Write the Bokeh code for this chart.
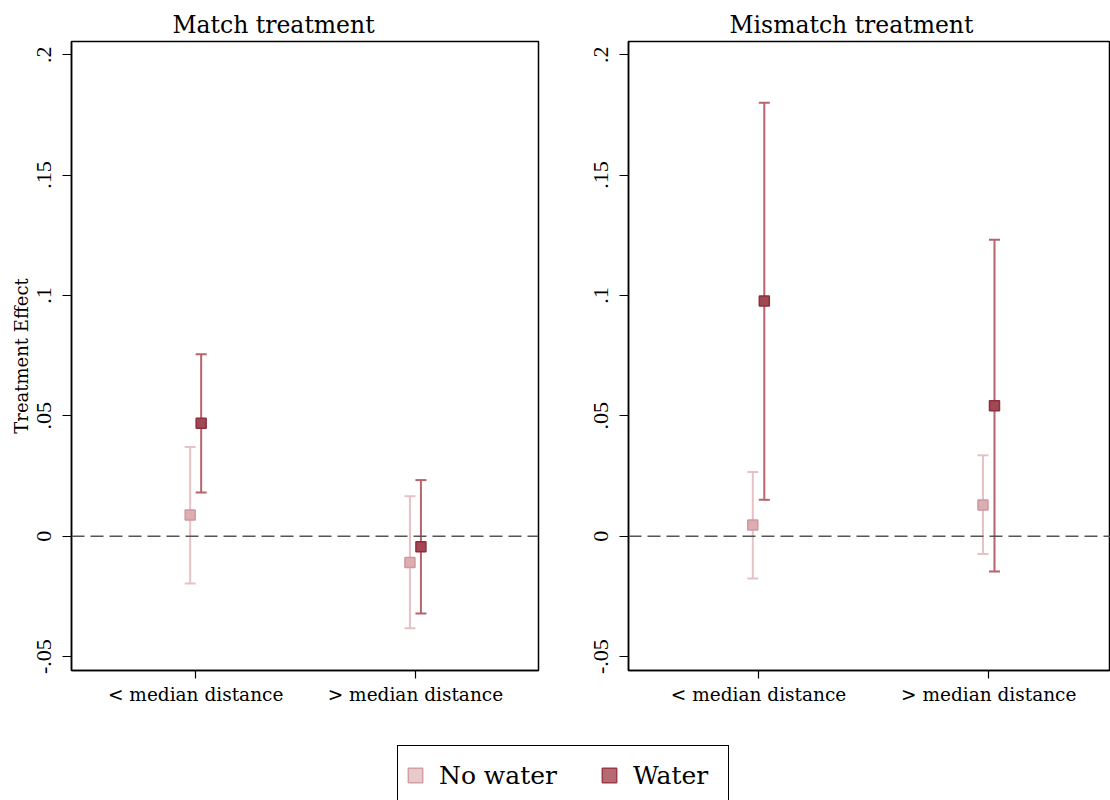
from bokeh.plotting import figure
from bokeh.models import (Whisker, TeeHead, ColumnDataSource, FixedTicker, Span,
                          Legend, LegendItem, Title, Range1d)
from bokeh.layouts import column, row
from bokeh.embed import file_html
from bokeh.resources import INLINE

# ---------------- data ----------------
categories = ["< median distance", "> median distance"]
cat_pos = [1, 2]
panel_titles = ["Match treatment", "Mismatch treatment"]
group_names = ["No water", "Water"]

# Match treatment
match_nowater_est = [0.0088, -0.0109]
match_nowater_lo = [-0.0197, -0.0382]
match_nowater_hi = [0.0370, 0.0166]
match_water_est = [0.0469, -0.0044]
match_water_lo = [0.0181, -0.0321]
match_water_hi = [0.0756, 0.0233]

# Mismatch treatment
mis_nowater_est = [0.0046, 0.0130]
mis_nowater_lo = [-0.0176, -0.0074]
mis_nowater_hi = [0.0267, 0.0336]
mis_water_est = [0.0977, 0.0542]
mis_water_lo = [0.0151, -0.0147]
mis_water_hi = [0.1801, 0.1231]

y_ticks = [-0.05, 0, 0.05, 0.1, 0.15, 0.2]
y_tick_labels = ["-.05", "0", ".05", ".1", ".15", ".2"]

# ---------------- style ----------------
DODGE = 0.025
SERIF = "DejaVu Serif"
NARROW = "Liberation Sans Narrow"
styles = {
    "No water": dict(fill="#dcadb2", line="#cf979e", whisk="#e6c2c6",
                     leg_fill="#e8c9cc", leg_line="#d29fa5"),
    "Water": dict(fill="#a24854", line="#8c2f3b", whisk="#b5646d",
                  leg_fill="#b56b74", leg_line="#9a3c48"),
}


def make_panel(title, series, width, border_left, border_right, x_end, ylabel):
    p = figure(width=width, height=722,
               x_range=Range1d(0.435, x_end), y_range=Range1d(-0.0558, 0.2055),
               output_backend="svg", toolbar_location=None,
               min_border_left=border_left, min_border_right=border_right,
               min_border_top=41, min_border_bottom=52)
    p.add_layout(Title(text=title, align="left", offset=101, text_font=SERIF,
                       text_font_size="23.5px", text_font_style="normal",
                       text_color="black", standoff=5), "above")
    p.grid.visible = False
    p.outline_line_color = "black"
    p.outline_line_width = 1.5
    p.outline_line_alpha = 1.0

    p.add_layout(Span(location=0, dimension="width", line_color="#555555",
                      line_dash="13 6", line_width=1.5))

    for name, sign, est, lo, hi in series:
        st = styles[name]
        src = ColumnDataSource(dict(
            x=[c + sign * DODGE for c in cat_pos], est=est, lo=lo, hi=hi))
        p.add_layout(Whisker(source=src, base="x", upper="hi", lower="lo",
                             line_color=st["whisk"], line_width=2,
                             upper_head=TeeHead(size=11, line_color=st["whisk"], line_width=2),
                             lower_head=TeeHead(size=11, line_color=st["whisk"], line_width=2)))
        p.scatter(x="x", y="est", source=src, marker="square", size=10,
                  fill_color=st["fill"], line_color=st["line"], line_width=1.5)

    xa = p.xaxis[0]
    xa.ticker = FixedTicker(ticks=cat_pos)
    xa.major_label_overrides = {c: lab for c, lab in zip(cat_pos, categories)}
    xa.minor_tick_line_color = None
    xa.major_tick_in = 0
    xa.major_tick_out = 8
    xa.major_tick_line_width = 1.2
    xa.major_label_standoff = 5
    xa.major_label_text_font = SERIF
    xa.major_label_text_font_size = "18.5px"
    xa.major_label_text_color = "black"
    xa.axis_line_width = 1.5
    xa.axis_line_color = "black"

    ya = p.yaxis[0]
    ya.ticker = FixedTicker(ticks=y_ticks)
    ya.major_label_overrides = {t: lab for t, lab in zip(y_ticks, y_tick_labels)}
    ya.minor_tick_line_color = None
    ya.major_tick_in = 0
    ya.major_tick_out = 9
    ya.major_tick_line_width = 1.2
    ya.major_label_orientation = "vertical"
    ya.major_label_standoff = 11
    ya.major_label_text_font = NARROW
    ya.major_label_text_font_size = "22px"
    ya.major_label_text_color = "black"
    ya.axis_line_width = 1.5
    ya.axis_line_color = "black"
    if ylabel:
        ya.axis_label = ylabel
        ya.axis_label_text_font = SERIF
        ya.axis_label_text_font_size = "18px"
        ya.axis_label_text_font_style = "normal"
        ya.axis_label_text_color = "black"
        ya.axis_label_standoff = 3
    return p


p1 = make_panel(panel_titles[0], [
    ("No water", -1, match_nowater_est, match_nowater_lo, match_nowater_hi),
    ("Water", 1, match_water_est, match_water_lo, match_water_hi),
], width=560, border_left=71, border_right=22, x_end=2.56, ylabel="Treatment Effect")

p2 = make_panel(panel_titles[1], [
    ("No water", -1, mis_nowater_est, mis_nowater_lo, mis_nowater_hi),
    ("Water", 1, mis_water_est, mis_water_lo, mis_water_hi),
], width=550, border_left=68, border_right=0, x_end=2.529, ylabel=None)

# ---------------- legend ----------------
leg = figure(width=1110, height=78, output_backend="svg", toolbar_location=None,
             x_axis_location=None, y_axis_location=None, min_border=0,
             x_range=Range1d(0, 1), y_range=Range1d(0, 1))
leg.outline_line_color = None
leg.grid.visible = False
items = []
for name in group_names:
    st = styles[name]
    # a NaN row: nothing is drawn in the frame, but the legend swatch is styled
    src = ColumnDataSource(dict(l=[float("nan")], r=[float("nan")],
                                t=[float("nan")], b=[float("nan")]))
    r = leg.quad(left="l", right="r", top="t", bottom="b", source=src,
                 fill_color=st["leg_fill"], line_color=st["leg_line"], line_width=1.5)
    items.append(LegendItem(label=name, renderers=[r]))
legend = Legend(items=items, orientation="horizontal", location=(397, -5),
                label_text_font=SERIF, label_text_font_size="25px",
                label_text_color="black",
                glyph_width=18, glyph_height=18, label_height=42, label_width=87,
                label_standoff=15, spacing=43, padding=8, margin=0,
                border_line_color="black", border_line_width=1.5,
                border_line_alpha=1.0,
                background_fill_color="white", background_fill_alpha=1.0)
leg.add_layout(legend, "center")

layout = column(row(p1, p2), leg)
open("out.html", "w").write(file_html(layout, INLINE))
